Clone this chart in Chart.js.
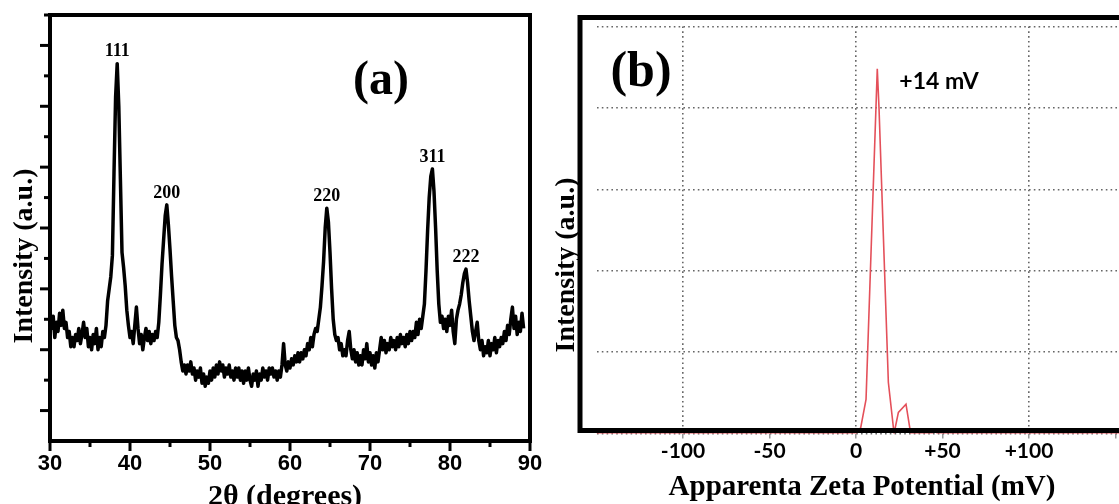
<!DOCTYPE html>
<html lang="en">
<head>
<meta charset="UTF-8">
<title>XRD pattern and zeta potential</title>
<script src="https://cdn.jsdelivr.net/npm/chart.js"></script>
<style>
    html, body { margin: 0; padding: 0; background: #fff; overflow: hidden; }
    body { width: 1119px; height: 504px; position: relative; }
    #xrd { position: absolute; left: 0; top: 0; }
    #zeta { position: absolute; left: 545px; top: 0; }
</style>
</head>
<body>
<canvas id="xrd" width="560" height="504"></canvas>
<canvas id="zeta" width="635" height="504"></canvas>
<script>
// (a) XRD scan: [2theta, intensity]
const xrdScan = [
    [30.0, 4.3], [30.2, 3.7], [30.4, 4.1], [30.6, 3.4], [30.8, 3.9], [31.0, 3.6], [31.2, 4.2], [31.4, 3.8],
    [31.6, 4.3], [31.8, 3.7], [32.0, 3.9], [32.2, 3.4], [32.4, 3.6], [32.6, 3.1], [32.8, 3.4], [33.0, 3.1],
    [33.2, 3.5], [33.4, 3.3], [33.6, 3.7], [33.8, 3.2], [34.0, 3.5], [34.2, 3.9], [34.4, 3.4], [34.6, 3.7],
    [34.8, 3.1], [35.0, 3.4], [35.2, 3.0], [35.4, 3.5], [35.6, 3.2], [35.8, 3.7], [36.0, 3.0], [36.2, 3.4],
    [36.4, 3.1], [36.6, 3.6], [36.8, 3.4], [37.0, 3.8], [37.2, 4.6], [37.4, 5.0], [37.6, 5.4], [37.8, 6.1],
    [38.0, 8.8], [38.2, 11.3], [38.4, 12.4], [38.6, 11.0], [38.8, 8.6], [39.0, 6.2], [39.2, 5.7], [39.4, 5.1],
    [39.6, 4.3], [39.8, 3.8], [40.0, 3.4], [40.2, 3.6], [40.4, 3.2], [40.6, 3.8], [40.8, 4.4], [41.0, 3.7],
    [41.2, 3.2], [41.4, 3.5], [41.6, 3.0], [41.8, 3.4], [42.0, 3.7], [42.2, 3.3], [42.4, 3.6], [42.6, 3.2],
    [42.8, 3.5], [43.0, 3.3], [43.2, 3.6], [43.4, 3.4], [43.6, 3.9], [43.8, 4.8], [44.0, 5.8], [44.2, 6.6],
    [44.4, 7.4], [44.6, 7.76], [44.8, 7.1], [45.0, 6.3], [45.2, 5.4], [45.4, 4.6], [45.6, 3.8], [45.8, 3.4],
    [46.0, 3.3], [46.2, 3.0], [46.4, 2.6], [46.6, 2.3], [46.8, 2.5], [47.0, 2.2], [47.2, 2.5], [47.4, 2.3],
    [47.6, 2.6], [47.8, 2.2], [48.0, 2.4], [48.2, 2.0], [48.4, 2.3], [48.6, 2.1], [48.8, 2.4], [49.0, 1.9],
    [49.2, 2.2], [49.4, 1.8], [49.6, 2.1], [49.8, 1.9], [50.0, 2.3], [50.2, 2.0], [50.4, 2.4], [50.6, 2.1],
    [50.8, 2.5], [51.0, 2.2], [51.2, 2.6], [51.4, 2.3], [51.6, 2.5], [51.8, 2.1], [52.0, 2.4], [52.2, 2.2],
    [52.4, 2.5], [52.6, 2.1], [52.8, 2.3], [53.0, 2.0], [53.2, 2.4], [53.4, 2.1], [53.6, 2.4], [53.8, 2.0],
    [54.0, 2.3], [54.2, 1.9], [54.4, 2.3], [54.6, 2.0], [54.8, 2.4], [55.0, 2.0], [55.2, 1.8], [55.4, 2.2],
    [55.6, 2.0], [55.8, 2.3], [56.0, 1.8], [56.2, 2.2], [56.4, 2.0], [56.6, 2.4], [56.8, 2.1], [57.0, 2.3],
    [57.2, 2.0], [57.4, 2.4], [57.6, 2.2], [57.8, 2.4], [58.0, 2.1], [58.2, 2.3], [58.4, 2.0], [58.6, 2.3],
    [58.8, 2.1], [59.0, 2.5], [59.2, 3.2], [59.4, 2.5], [59.6, 2.3], [59.8, 2.6], [60.0, 2.4], [60.2, 2.7],
    [60.4, 2.5], [60.6, 2.8], [60.8, 2.6], [61.0, 2.9], [61.2, 2.6], [61.4, 2.9], [61.6, 2.7], [61.8, 3.0],
    [62.0, 2.8], [62.2, 3.2], [62.4, 3.0], [62.6, 3.4], [62.8, 3.1], [63.0, 3.5], [63.2, 3.7], [63.4, 3.6],
    [63.6, 4.0], [63.8, 4.4], [64.0, 5.1], [64.2, 5.9], [64.4, 7.0], [64.6, 7.65], [64.8, 7.2], [65.0, 6.2],
    [65.2, 5.0], [65.4, 4.0], [65.6, 3.5], [65.8, 3.3], [66.0, 3.4], [66.2, 3.0], [66.4, 3.2], [66.6, 2.8],
    [66.8, 3.0], [67.0, 2.8], [67.2, 3.3], [67.4, 3.6], [67.6, 3.0], [67.8, 2.7], [68.0, 3.0], [68.2, 2.6],
    [68.4, 2.9], [68.6, 2.5], [68.8, 2.8], [69.0, 2.5], [69.2, 3.0], [69.4, 2.7], [69.6, 3.2], [69.8, 2.6],
    [70.0, 2.9], [70.2, 2.5], [70.4, 2.8], [70.6, 2.4], [70.8, 2.9], [71.0, 2.6], [71.2, 3.0], [71.4, 3.4],
    [71.6, 3.0], [71.8, 3.3], [72.0, 2.9], [72.2, 3.2], [72.4, 3.0], [72.6, 3.4], [72.8, 3.1], [73.0, 3.3],
    [73.2, 3.0], [73.4, 3.4], [73.6, 3.1], [73.8, 3.5], [74.0, 3.2], [74.2, 3.4], [74.4, 3.1], [74.6, 3.5],
    [74.8, 3.2], [75.0, 3.6], [75.2, 3.3], [75.4, 3.6], [75.6, 3.4], [75.8, 3.9], [76.0, 3.5], [76.2, 4.0],
    [76.4, 3.7], [76.6, 4.1], [76.8, 4.5], [77.0, 5.6], [77.2, 6.9], [77.4, 8.0], [77.6, 8.7], [77.8, 8.94],
    [78.0, 8.2], [78.2, 7.0], [78.4, 5.6], [78.6, 4.5], [78.8, 3.9], [79.0, 4.1], [79.2, 3.7], [79.4, 4.0],
    [79.6, 3.6], [79.8, 4.1], [80.0, 3.8], [80.2, 4.3], [80.4, 3.6], [80.6, 3.2], [80.8, 4.0], [81.0, 4.3],
    [81.2, 4.5], [81.4, 4.8], [81.6, 5.2], [81.8, 5.5], [82.0, 5.65], [82.2, 5.2], [82.4, 4.6], [82.6, 4.1],
    [82.8, 3.6], [83.0, 3.3], [83.2, 3.6], [83.4, 3.9], [83.6, 3.3], [83.8, 3.0], [84.0, 3.3], [84.2, 2.8],
    [84.4, 3.1], [84.6, 2.9], [84.8, 3.3], [85.0, 2.8], [85.2, 3.2], [85.4, 3.0], [85.6, 3.4], [85.8, 2.9],
    [86.0, 3.3], [86.2, 3.1], [86.4, 3.4], [86.6, 3.2], [86.8, 3.6], [87.0, 3.3], [87.2, 3.8], [87.4, 3.5],
    [87.6, 4.0], [87.8, 4.4], [88.0, 3.7], [88.2, 4.1], [88.4, 3.5], [88.6, 3.9], [88.8, 3.6], [89.0, 4.2],
    [89.2, 3.7]
];
const xrdTicks = [30, 40, 50, 60, 70, 80, 90];
const hklLabels = ['111', '200', '220', '311', '222'];
const hklAngles = [38.4, 44.6, 64.6, 77.8, 82.0];
const hklPeaks = [12.4, 7.76, 7.65, 8.94, 5.65];

// (b) zeta potential distribution
const zetaMv = [-150, 0, 2.7, 5.8, 12.3, 13.3, 18.7, 22, 24.5, 28.9, 31.6, 44, 45.5, 47, 175];
const zetaIntensity = [0, 0, 0.07, 0.42, 4.48, 4.0, 0.63, 0, 0.26, 0.36, 0, 0, 0.03, 0, 0];
const zetaTicks = [-100, -50, 0, 50, 100, 150];

const serif = '"Liberation Serif", "Times New Roman", serif';
const sans = '"Liberation Sans", Arial, sans-serif';
const calibriLike = 'Lato, "Open Sans", sans-serif';
const gridGray = '#666';

function line(ctx, x1, y1, x2, y2) {
    ctx.beginPath();
    ctx.moveTo(x1, y1);
    ctx.lineTo(x2, y2);
    ctx.stroke();
}

// frame, ticks and labels of panel (a)
const xrdDecor = {
    id: 'xrdDecor',
    afterDatasetsDraw(chart) {
        const { ctx, chartArea: a, scales: { x, y } } = chart;
        ctx.save();
        ctx.strokeStyle = '#000';
        ctx.fillStyle = '#000';
        ctx.lineWidth = 4;
        ctx.strokeRect(a.left, a.top, a.right - a.left, a.bottom - a.top);
        ctx.lineWidth = 3;
        for (let v = 30; v <= 90; v += 5) {
            const px = x.getPixelForValue(v);
            line(ctx, px, a.bottom, px, a.bottom + (v % 10 === 0 ? 10 : 6));
        }
        for (let v = 1; v <= 14; v++) {
            const py = y.getPixelForValue(v);
            line(ctx, a.left - (v % 2 ? 10 : 6), py, a.left, py);
        }
        ctx.textAlign = 'center';
        ctx.textBaseline = 'middle';
        ctx.font = 'bold 18px ' + serif;
        hklLabels.forEach((t, i) => {
            ctx.fillText(t, x.getPixelForValue(hklAngles[i]), y.getPixelForValue(hklPeaks[i]) - 12);
        });
        ctx.font = 'bold 48px ' + serif;
        ctx.fillText('(a)', 381, 82);
        ctx.font = 'bold 30px ' + serif;
        ctx.textBaseline = 'alphabetic';
        ctx.fillText('2θ (degrees)', 285, 505);
        ctx.translate(25, 256);
        ctx.rotate(-Math.PI / 2);
        ctx.font = 'bold 28px ' + serif;
        ctx.textBaseline = 'middle';
        ctx.fillText('Intensity (a.u.)', 0, 0);
        ctx.restore();
    }
};

// open black frame and labels of panel (b)
const zetaDecor = {
    id: 'zetaDecor',
    afterDatasetsDraw(chart) {
        const { ctx, chartArea: a, scales: { y } } = chart;
        const top = a.top - 9;
        const left = a.left - 16.5;
        const bottom = y.getPixelForValue(0) - 3;
        ctx.save();
        ctx.strokeStyle = '#000';
        ctx.lineWidth = 5;
        ctx.lineJoin = 'miter';
        ctx.beginPath();
        ctx.moveTo(chart.width, top);
        ctx.lineTo(left, top);
        ctx.lineTo(left, bottom);
        ctx.lineTo(chart.width, bottom);
        ctx.stroke();
        ctx.fillStyle = '#000';
        ctx.textAlign = 'center';
        ctx.textBaseline = 'middle';
        ctx.font = 'bold 50px ' + serif;
        ctx.fillText('(b)', 96, 73);
        ctx.font = 'bold 23px ' + calibriLike;
        ctx.fillText('+14 mV', 394, 82);
        ctx.font = 'bold 29px ' + serif;
        ctx.textBaseline = 'alphabetic';
        ctx.fillText('Apparenta Zeta Potential (mV)', 317, 495);
        ctx.translate(22, 265);
        ctx.rotate(-Math.PI / 2);
        ctx.font = 'bold 28px ' + serif;
        ctx.textBaseline = 'middle';
        ctx.fillText('Intensity (a.u.)', 0, 0);
        ctx.restore();
    }
};

new Chart(document.getElementById('xrd'), {
    type: 'line',
    data: {
        datasets: [{
            data: xrdScan.map(p => ({ x: p[0], y: p[1] })),
            borderColor: '#000',
            borderWidth: 3.5,
            borderJoinStyle: 'round',
            pointRadius: 0,
            tension: 0
        }]
    },
    options: {
        responsive: false,
        animation: false,
        layout: { padding: { top: 15, right: 30, left: 0, bottom: 0 } },
        plugins: { legend: { display: false }, tooltip: { enabled: false } },
        scales: {
            x: {
                type: 'linear',
                min: 30,
                max: 90,
                afterBuildTicks: s => { s.ticks = xrdTicks.map(v => ({ value: v })); },
                afterFit: s => { s.height = 63; s.paddingLeft = 0; s.paddingRight = 0; },
                grid: { display: false, drawTicks: false },
                border: { display: false },
                ticks: {
                    color: '#000',
                    font: { family: sans, size: 22, weight: 'bold' },
                    padding: 10,
                    maxRotation: 0,
                    autoSkip: false
                }
            },
            y: {
                min: 0,
                max: 14,
                afterFit: s => { s.width = 50; s.paddingTop = 0; s.paddingBottom = 0; },
                grid: { display: false, drawTicks: false },
                border: { display: false },
                ticks: { display: false }
            }
        }
    },
    plugins: [xrdDecor]
});

new Chart(document.getElementById('zeta'), {
    type: 'line',
    data: {
        datasets: [{
            data: zetaMv.map((v, i) => ({ x: v, y: zetaIntensity[i] })),
            borderColor: 'rgb(228, 80, 90)',
            borderWidth: 1.6,
            pointRadius: 0,
            tension: 0
        }]
    },
    options: {
        responsive: false,
        animation: false,
        layout: { padding: { top: 26.5, right: 21.25, left: 0, bottom: 0 } },
        plugins: { legend: { display: false }, tooltip: { enabled: false } },
        scales: {
            x: {
                type: 'linear',
                min: -150,
                max: 175,
                afterBuildTicks: s => { s.ticks = zetaTicks.map(v => ({ value: v })); },
                afterFit: s => { s.height = 70.5; s.paddingLeft = 0; s.paddingRight = 0; },
                grid: {
                    color: c => (c.tick && c.tick.value % 100 === 0 && Math.abs(c.tick.value) <= 100) ? gridGray : 'rgba(0,0,0,0)',
                    lineWidth: 1.6,
                    drawTicks: true,
                    tickLength: 5,
                    tickColor: '#888',
                    tickWidth: 1.3
                },
                border: { display: false, dash: [1.6, 3.2] },
                ticks: {
                    color: '#000',
                    font: { family: calibriLike, size: 21, weight: 'bold' },
                    padding: 0,
                    maxRotation: 0,
                    autoSkip: false,
                    callback: v => v === 150 ? '' : (v > 0 ? '+' + v : String(v))
                }
            },
            y: {
                min: 0,
                max: 5,
                afterFit: s => { s.width = 51.5; s.paddingTop = 0; s.paddingBottom = 0; },
                grid: { color: gridGray, lineWidth: 1.6, drawTicks: false },
                border: { display: false, dash: [1.6, 3.2] },
                ticks: { display: false, stepSize: 1 }
            }
        }
    },
    plugins: [zetaDecor]
});
</script>
</body>
</html>
